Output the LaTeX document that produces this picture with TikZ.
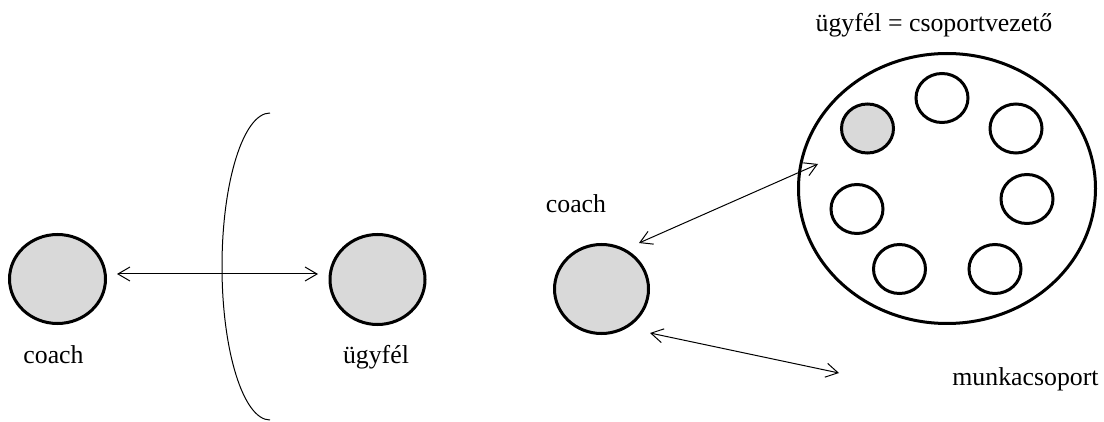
\documentclass[tikz,border=0pt]{standalone}
\usepackage{fontspec}
\setmainfont{Liberation Serif}
\usetikzlibrary{shapes.geometric,arrows.meta,calc}
\definecolor{discfill}{HTML}{D9D9D9}
\begin{document}
\begin{tikzpicture}[x=1pt,y=-1pt,
  person/.style={ellipse, draw, line width=3pt, inner sep=0pt},
  member/.style={person, minimum width=52pt, minimum height=49pt},
  lbl/.style={anchor=base, inner sep=0pt, font=\fontsize{25.8}{30}\selectfont},
  link/.style={line width=1pt,
    {Straight Barb[length=12pt,width=14pt]}-{Straight Barb[length=12pt,width=14pt]}},
  boundary/.style={line width=1pt}]
\useasboundingbox (0,0) rectangle (1104,422);

% one-to-one coaching
\node[person, fill=discfill, minimum width=96pt, minimum height=89pt] (coachA) at (57.5,279) {};
\node[person, fill=discfill, minimum width=95pt, minimum height=90pt] (clientA) at (377.5,279.5) {};
\node[lbl] (coachAlbl) at (53.5,363) {coach};
\node[lbl] (clientAlbl) at (376,363) {ügyfél};
\draw[boundary] (270,113) arc[start angle=90, end angle=270, x radius=48pt, y radius=153.5pt];
\draw[link] ($(coachA)+(59.5,-5)$) -- ($(clientA)+(-59.5,-5.5)$);

% coaching the team leader within the work group
\node[person, fill=discfill, minimum width=94pt, minimum height=89pt] (coachB) at (601.5,289) {};
\node[person, minimum width=297pt, minimum height=270pt] (team) at (947,188.5) {};
\node[member, fill=discfill] (leader) at (867.5,128.5) {};
\node[member] (m1) at (942,98) {};
\node[member] (m2) at (1016,128.5) {};
\node[member] (m3) at (1027,199) {};
\node[member] (m4) at (857,209) {};
\node[member] (m5) at (899.5,269) {};
\node[member] (m6) at (995,269) {};
\node[lbl] (coachBlbl) at (576,213) {coach};
\node[lbl] (teamtitle) at (934,32) {ügyfél = csoportvezető};
\node[lbl] (grouplbl) at (1025.5,385) {munkacsoport};
\draw[link] ($(coachB)+(37.5,-46)$) -- ($(team)+(-129,-24.5)$);
\draw[link] ($(coachB)+(48.5,44)$) -- ($(team)+(-108,184.5)$);
\end{tikzpicture}
\end{document}
